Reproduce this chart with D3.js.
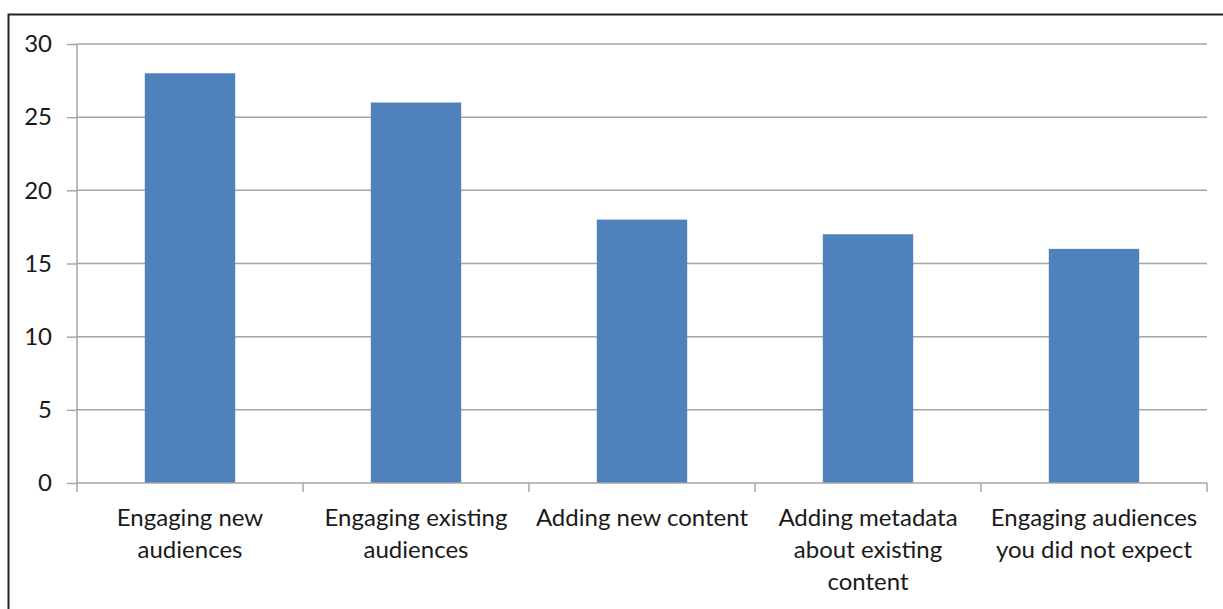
<!DOCTYPE html>
<meta charset="utf-8">
<style>
  body { margin: 0; background: #fff; }
  .frame { fill: none; stroke: #222; stroke-width: 2; }
  .grid line { stroke: #a6a6a6; stroke-width: 1.5; }
  .axis path, .axis line { stroke: #a6a6a6; stroke-width: 1.5; }
  .axis text { font-family: Lato, "Open Sans", sans-serif; font-size: 24px; fill: #1a1a1a; }
  .bar { fill: #4f81bd; }
</style>
<body>
<script src="https://cdn.jsdelivr.net/npm/d3@7"></script>
<script>
  // categories (line breaks as in the original chart) and values
  var categories = [
    "Engaging new\naudiences",
    "Engaging existing\naudiences",
    "Adding new content",
    "Adding metadata\nabout existing\ncontent",
    "Engaging audiences\nyou did not expect"
  ];
  var values = [28, 26, 18, 17, 16];
  var yTicks = [0, 5, 10, 15, 20, 25, 30];

  var margin = { top: 44, right: 16, bottom: 126, left: 77 },
    width = 1223 - margin.left - margin.right,
    height = 609 - margin.top - margin.bottom;

  var svg = d3.select("body").append("svg")
    .attr("width", 1223)
    .attr("height", 609);

  // outer frame
  svg.append("rect")
    .attr("class", "frame")
    .attr("x", 8.5)
    .attr("y", 14.5)
    .attr("width", 1230)
    .attr("height", 620);

  var g = svg.append("g")
    .attr("transform", "translate(" + margin.left + "," + margin.top + ")");

  var x = d3.scaleBand()
    .domain(categories)
    .range([0, width])
    .paddingInner(0.6)
    .paddingOuter(0.3);

  var y = d3.scaleLinear()
    .domain([0, 30])
    .range([height, 0]);

  // gridlines
  g.append("g")
    .attr("class", "grid")
    .selectAll("line")
    .data(yTicks.slice(1))
    .enter().append("line")
    .attr("x1", 0)
    .attr("x2", width)
    .attr("y1", function (d) { return y(d); })
    .attr("y2", function (d) { return y(d); });

  // bars
  g.selectAll(".bar")
    .data(values)
    .enter().append("rect")
    .attr("class", "bar")
    .attr("x", function (d, i) { return x(categories[i]); })
    .attr("width", x.bandwidth())
    .attr("y", function (d) { return y(d); })
    .attr("height", function (d) { return height - y(d); });

  // y axis
  var yAxis = g.append("g")
    .attr("class", "axis")
    .call(d3.axisLeft(y).tickValues(yTicks).tickSize(10).tickPadding(15));
  yAxis.select(".domain").attr("d", "M0,0V" + height);

  // x axis with ticks between categories
  var xAxis = g.append("g")
    .attr("class", "axis")
    .attr("transform", "translate(0," + height + ")");
  xAxis.append("line")
    .attr("x1", 0).attr("x2", width);
  var step = width / categories.length;
  xAxis.selectAll(".tk")
    .data(d3.range(categories.length + 1))
    .enter().append("line")
    .attr("class", "tk")
    .attr("x1", function (d) { return d * step; })
    .attr("x2", function (d) { return d * step; })
    .attr("y1", 0).attr("y2", 9);

  var labels = xAxis.selectAll(".lbl")
    .data(categories)
    .enter().append("text")
    .attr("class", "lbl")
    .attr("text-anchor", "middle")
    .attr("transform", function (d) { return "translate(" + (x(d) + x.bandwidth() / 2) + ",0)"; });
  labels.selectAll("tspan")
    .data(function (d) { return d.split("\n"); })
    .enter().append("tspan")
    .attr("x", 0)
    .attr("y", function (d, i) { return 43 + i * 32; })
    .text(function (d) { return d; });
</script>
</body>
